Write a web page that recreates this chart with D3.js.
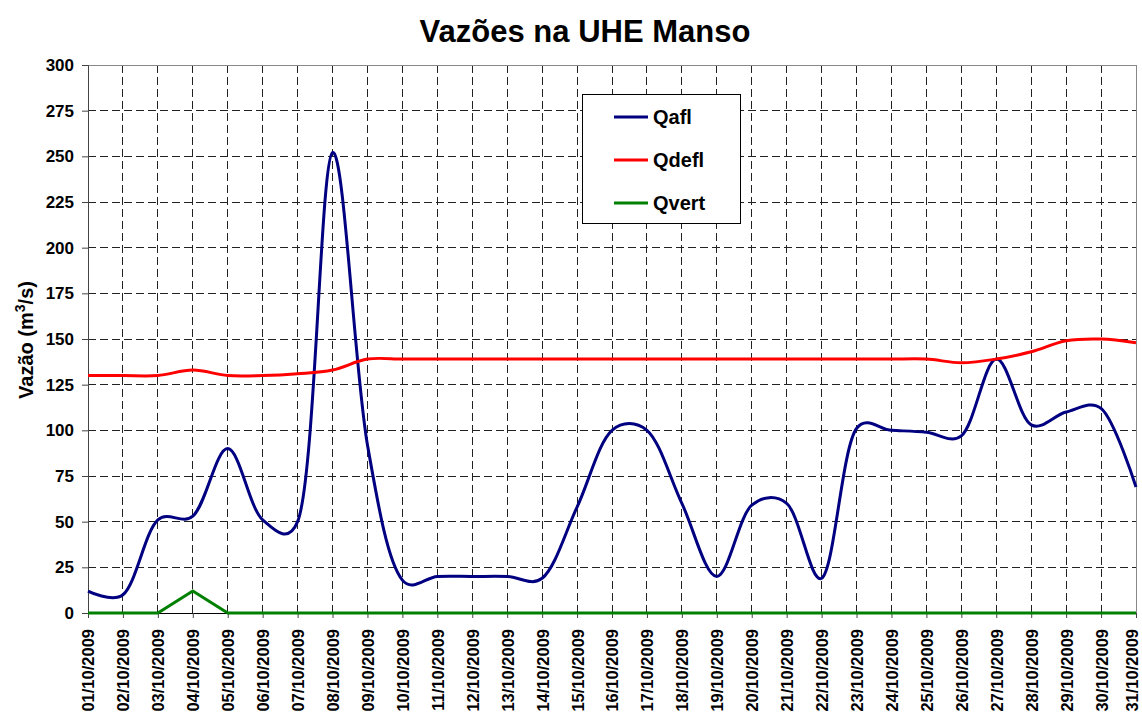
<!DOCTYPE html>
<html>
<head>
<meta charset="utf-8">
<script src="https://d3js.org/d3.v7.min.js"></script>
<style>
  body { margin: 0; background: #fff; }
  svg { display: block; font-family: "Liberation Sans", Arial, sans-serif; }
</style>
</head>
<body>
<div id="container"></div>
<script>
// datas (eixo x)
const dias = d3.range(1, 32).map(d => String(d).padStart(2, '0') + '/10/2009');

// vazões afluentes
const qafl = [12, 10, 51, 53, 90, 51, 50, 252, 92, 18,
              20, 20, 20, 19, 58, 100, 100, 60, 20, 59,
              60, 19, 101, 100, 99, 97, 139, 103, 110, 112, 69];
// vazões defluentes
const qdefl = [130, 130, 130, 133, 130, 130, 131, 133, 139, 139,
               139, 139, 139, 139, 139, 139, 139, 139, 139, 139,
               139, 139, 139, 139, 139, 137, 139, 143, 149, 150, 148];
// vazões vertidas
const qvert = [0, 0, 0, 12, 0, 0, 0, 0, 0, 0,
               0, 0, 0, 0, 0, 0, 0, 0, 0, 0,
               0, 0, 0, 0, 0, 0, 0, 0, 0, 0, 0];

const yTicks = d3.range(0, 301, 25);

const width = 1142, height = 713;
const margin = { top: 65, right: 6, bottom: 100, left: 88 };

const svg = d3.select('#container').append('svg')
  .attr('width', width).attr('height', height);

const x = d3.scalePoint().domain(dias).range([margin.left, width - margin.right]);
const y = d3.scaleLinear().domain([0, 300]).range([height - margin.bottom, margin.top]);

const x0 = margin.left, x1 = width - margin.right;
const y0 = height - margin.bottom, y1 = margin.top;

// grade tracejada
svg.append('g').selectAll('line').data(yTicks.slice(1, -1)).join('line')
  .attr('x1', x0).attr('x2', x1)
  .attr('y1', d => y(d)).attr('y2', d => y(d))
  .attr('stroke', '#222').attr('stroke-dasharray', '8,4').attr('shape-rendering', 'crispEdges');
svg.append('g').selectAll('line').data(dias.slice(1, -1)).join('line')
  .attr('x1', d => x(d)).attr('x2', d => x(d))
  .attr('y1', y1).attr('y2', y0)
  .attr('stroke', '#222').attr('stroke-dasharray', '8,4').attr('shape-rendering', 'crispEdges');

// borda do gráfico (topo e direita)
svg.append('path')
  .attr('d', `M${x0},${y1}H${x1}V${y0}`)
  .attr('fill', 'none').attr('stroke', '#888').attr('shape-rendering', 'crispEdges');

// eixos
const yAxis = d3.axisLeft(y).tickValues(yTicks).tickSize(6).tickPadding(8);
const gy = svg.append('g').attr('transform', `translate(${x0},0)`).call(yAxis);
gy.select('.domain').attr('stroke', '#444');
gy.selectAll('.tick line').attr('stroke', '#444');
gy.selectAll('text').attr('font-size', 17).attr('font-weight', 'bold').attr('fill', '#000');

const xAxis = d3.axisBottom(x).tickSize(5).tickSizeOuter(0);
const gx = svg.append('g').attr('transform', `translate(0,${y0})`).call(xAxis);
gx.select('.domain').attr('stroke', '#000');
gx.selectAll('.tick line').attr('stroke', '#444');
gx.selectAll('text')
  .attr('font-size', 16.5).attr('font-weight', 'bold').attr('fill', '#000')
  .attr('transform', 'rotate(-90)')
  .attr('text-anchor', 'end')
  .attr('x', -16).attr('y', (d, i) => i === dias.length - 1 ? -4 : 0).attr('dy', '0.36em');

// séries
const suave = d3.line().x((d, i) => x(dias[i])).y(d => y(d)).curve(d3.curveCatmullRom.alpha(0.25));
const reta = d3.line().x((d, i) => x(dias[i])).y(d => y(d));

svg.append('path').datum(qafl).attr('d', suave)
  .attr('fill', 'none').attr('stroke', '#000080').attr('stroke-width', 3);
svg.append('path').datum(qdefl).attr('d', suave)
  .attr('fill', 'none').attr('stroke', '#ff0000').attr('stroke-width', 3);
svg.append('path').datum(qvert).attr('d', reta)
  .attr('fill', 'none').attr('stroke', '#008000').attr('stroke-width', 3);

// título
svg.append('text').attr('x', 585).attr('y', 42)
  .attr('text-anchor', 'middle').attr('font-size', 31).attr('font-weight', 'bold')
  .text('Vazões na UHE Manso');

// título do eixo y
const yt = svg.append('text')
  .attr('transform', 'translate(33,340) rotate(-90)')
  .attr('text-anchor', 'middle').attr('font-size', 20).attr('font-weight', 'bold');
yt.append('tspan').text('Vazão (m');
yt.append('tspan').attr('dy', -8).attr('font-size', 14).text('3');
yt.append('tspan').attr('dy', 8).text('/s)');

// legenda
const legenda = [
  { nome: 'Qafl', cor: '#000080' },
  { nome: 'Qdefl', cor: '#ff0000' },
  { nome: 'Qvert', cor: '#008000' }
];
const lg = svg.append('g');
lg.append('rect').attr('x', 582.5).attr('y', 94.5).attr('width', 158).attr('height', 129)
  .attr('fill', '#fff').attr('stroke', '#000');
const itens = lg.selectAll('g.item').data(legenda).join('g')
  .attr('transform', (d, i) => `translate(0,${117 + i * 43})`);
itens.append('line').attr('x1', 614).attr('x2', 648)
  .attr('stroke', d => d.cor).attr('stroke-width', 3);
itens.append('text').attr('x', 653).attr('dy', '0.36em')
  .attr('font-size', 20).attr('font-weight', 'bold').text(d => d.nome);
</script>
</body>
</html>
